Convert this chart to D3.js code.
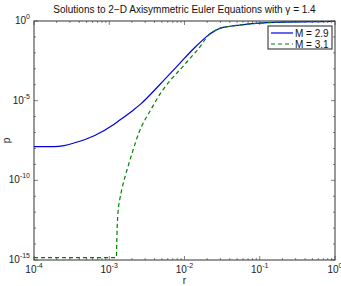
<!DOCTYPE html>
<html>
<head>
<meta charset="utf-8">
<script src="https://cdn.jsdelivr.net/npm/d3@7"></script>
<style>
body { margin: 0; background: #fff; }
text { font-family: "Liberation Sans", Arial, sans-serif; }
</style>
</head>
<body>
<script>
var seriesNames = ["M = 2.9", "M = 3.1"];
var logR29 = [-4, -3.73, -3.6, -3.47, -3.2, -2.94, -2.86, -2.67, -2.58, -2.33, -2.06, -1.86, -1.76, -1.70, -1.60, -1.53, -1.40, -1.26, -1.0, -0.46, 0];
var logP29 = [-7.89, -7.89, -7.82, -7.66, -7.2, -6.5, -6.22, -5.55, -5.2, -4.0, -2.64, -1.65, -1.2, -0.95, -0.62, -0.46, -0.33, -0.25, -0.13, -0.05, -0.03];
var logR31 = [-4, -2.905, -2.90, -2.895, -2.884, -2.86, -2.83, -2.764, -2.70, -2.605, -2.445, -2.30, -2.193, -2.02, -1.90, -1.838, -1.76, -1.705, -1.60, -1.53, -1.40, -1.26, -1.0, -0.46, 0];
var logP31 = [-14.85, -14.85, -13.9, -13.0, -12.05, -11.2, -10.5, -9.35, -8.35, -7.0, -5.55, -4.4, -3.75, -2.85, -2.2, -1.88, -1.4, -1.02, -0.62, -0.46, -0.33, -0.25, -0.13, -0.05, -0.03];
var xTicks = [1e-4, 1e-3, 1e-2, 1e-1, 1];
var yTicks = [1e-15, 1e-10, 1e-5, 1];

var data29 = logR29.map(function (d, i) { return {r: Math.pow(10, d), p: Math.pow(10, logP29[i])}; });
var data31 = logR31.map(function (d, i) { return {r: Math.pow(10, d), p: Math.pow(10, logP31[i])}; });

var margin = {top: 21, right: 6, bottom: 26, left: 34}
, width = 341 - margin.left - margin.right
, height = 286 - margin.top - margin.bottom;

var svg = d3.select("body").append("svg")
.attr("width", 341)
.attr("height", 286);

var g = svg.append("g")
.attr("transform", "translate(" + margin.left + "," + margin.top + ")");

var xScale = d3.scaleLog().domain([1e-4, 1]).range([0, width]);
var yScale = d3.scaleLog().domain([1e-15, 1]).range([height, 0]);

// Minor ticks
var xMinor = [];
for (var e = -4; e < 0; e++) for (var k = 2; k <= 9; k++) xMinor.push(k * Math.pow(10, e));
var yMinor = [];
for (var e2 = -15; e2 <= 0; e2++) if (e2 % 5 !== 0) yMinor.push(Math.pow(10, e2));

var tickG = g.append("g").attr("stroke", "#333").attr("stroke-width", 0.6);
xMinor.forEach(function (v) {
  var x = xScale(v);
  tickG.append("line").attr("x1", x).attr("x2", x).attr("y1", height).attr("y2", height - 2);
  tickG.append("line").attr("x1", x).attr("x2", x).attr("y1", 0).attr("y2", 2);
});
xTicks.forEach(function (v) {
  var x = xScale(v);
  tickG.append("line").attr("x1", x).attr("x2", x).attr("y1", height).attr("y2", height - 4);
  tickG.append("line").attr("x1", x).attr("x2", x).attr("y1", 0).attr("y2", 4);
});
yMinor.forEach(function (v) {
  var y = yScale(v);
  tickG.append("line").attr("x1", 0).attr("x2", 2).attr("y1", y).attr("y2", y);
  tickG.append("line").attr("x1", width).attr("x2", width - 2).attr("y1", y).attr("y2", y);
});
yTicks.forEach(function (v) {
  var y = yScale(v);
  tickG.append("line").attr("x1", 0).attr("x2", 4).attr("y1", y).attr("y2", y);
  tickG.append("line").attr("x1", width).attr("x2", width - 4).attr("y1", y).attr("y2", y);
});

// Rahmen
g.append("rect").attr("width", width).attr("height", height)
.attr("fill", "none").attr("stroke", "#333").attr("stroke-width", 1);

// Tick Labels
xTicks.forEach(function (v) {
  var t = g.append("text").attr("x", xScale(v)).attr("y", height + 13)
  .attr("text-anchor", "middle").attr("font-size", 10).attr("fill", "#222");
  t.append("tspan").text("10");
  t.append("tspan").attr("dy", -5).attr("font-size", 7).text(Math.round(Math.log10(v)));
});
yTicks.forEach(function (v) {
  var t = g.append("text").attr("x", -4).attr("y", yScale(v) + 3)
  .attr("text-anchor", "end").attr("font-size", 10).attr("fill", "#222");
  t.append("tspan").text("10");
  t.append("tspan").attr("dy", -5).attr("font-size", 7).text(Math.round(Math.log10(v)));
});

// Linien
var line = d3.line()
.x(function (d) { return xScale(d.r); })
.y(function (d) { return yScale(d.p); })
.curve(d3.curveMonotoneX);

g.append("path").datum(data29).attr("d", line)
.attr("fill", "none").attr("stroke", "#0000dd").attr("stroke-width", 1.2);
g.append("path").datum(data31).attr("d", line)
.attr("fill", "none").attr("stroke", "#008000").attr("stroke-width", 1.2)
.attr("stroke-dasharray", "4,3");

// Titel und Achsenbeschriftung
svg.append("text").attr("x", margin.left + width / 2).attr("y", 13)
.attr("text-anchor", "middle").attr("font-size", 10).attr("fill", "#111")
.text("Solutions to 2\u2212D Axisymmetric Euler Equations with \u03b3 = 1.4");
svg.append("text").attr("x", margin.left + width / 2).attr("y", 284)
.attr("text-anchor", "middle").attr("font-size", 10).attr("fill", "#222").text("r");
svg.append("text").attr("transform", "translate(10," + (margin.top + height / 2) + ") rotate(-90)")
.attr("text-anchor", "middle").attr("font-size", 10).attr("fill", "#222").text("p");

// Legende
var leg = svg.append("g").attr("transform", "translate(268,26)");
leg.append("rect").attr("width", 64).attr("height", 23)
.attr("fill", "#fff").attr("stroke", "#222").attr("stroke-width", 1);
var legColors = ["#0000dd", "#008000"];
var legDash = [null, "4,3"];
seriesNames.forEach(function (name, i) {
  var y = 7 + i * 11;
  leg.append("line").attr("x1", 3).attr("x2", 25).attr("y1", y).attr("y2", y)
  .attr("stroke", legColors[i]).attr("stroke-width", 1.2).attr("stroke-dasharray", legDash[i]);
  leg.append("text").attr("x", 27).attr("y", y + 3.5).attr("font-size", 10).attr("fill", "#111").text(name);
});
</script>
</body>
</html>
